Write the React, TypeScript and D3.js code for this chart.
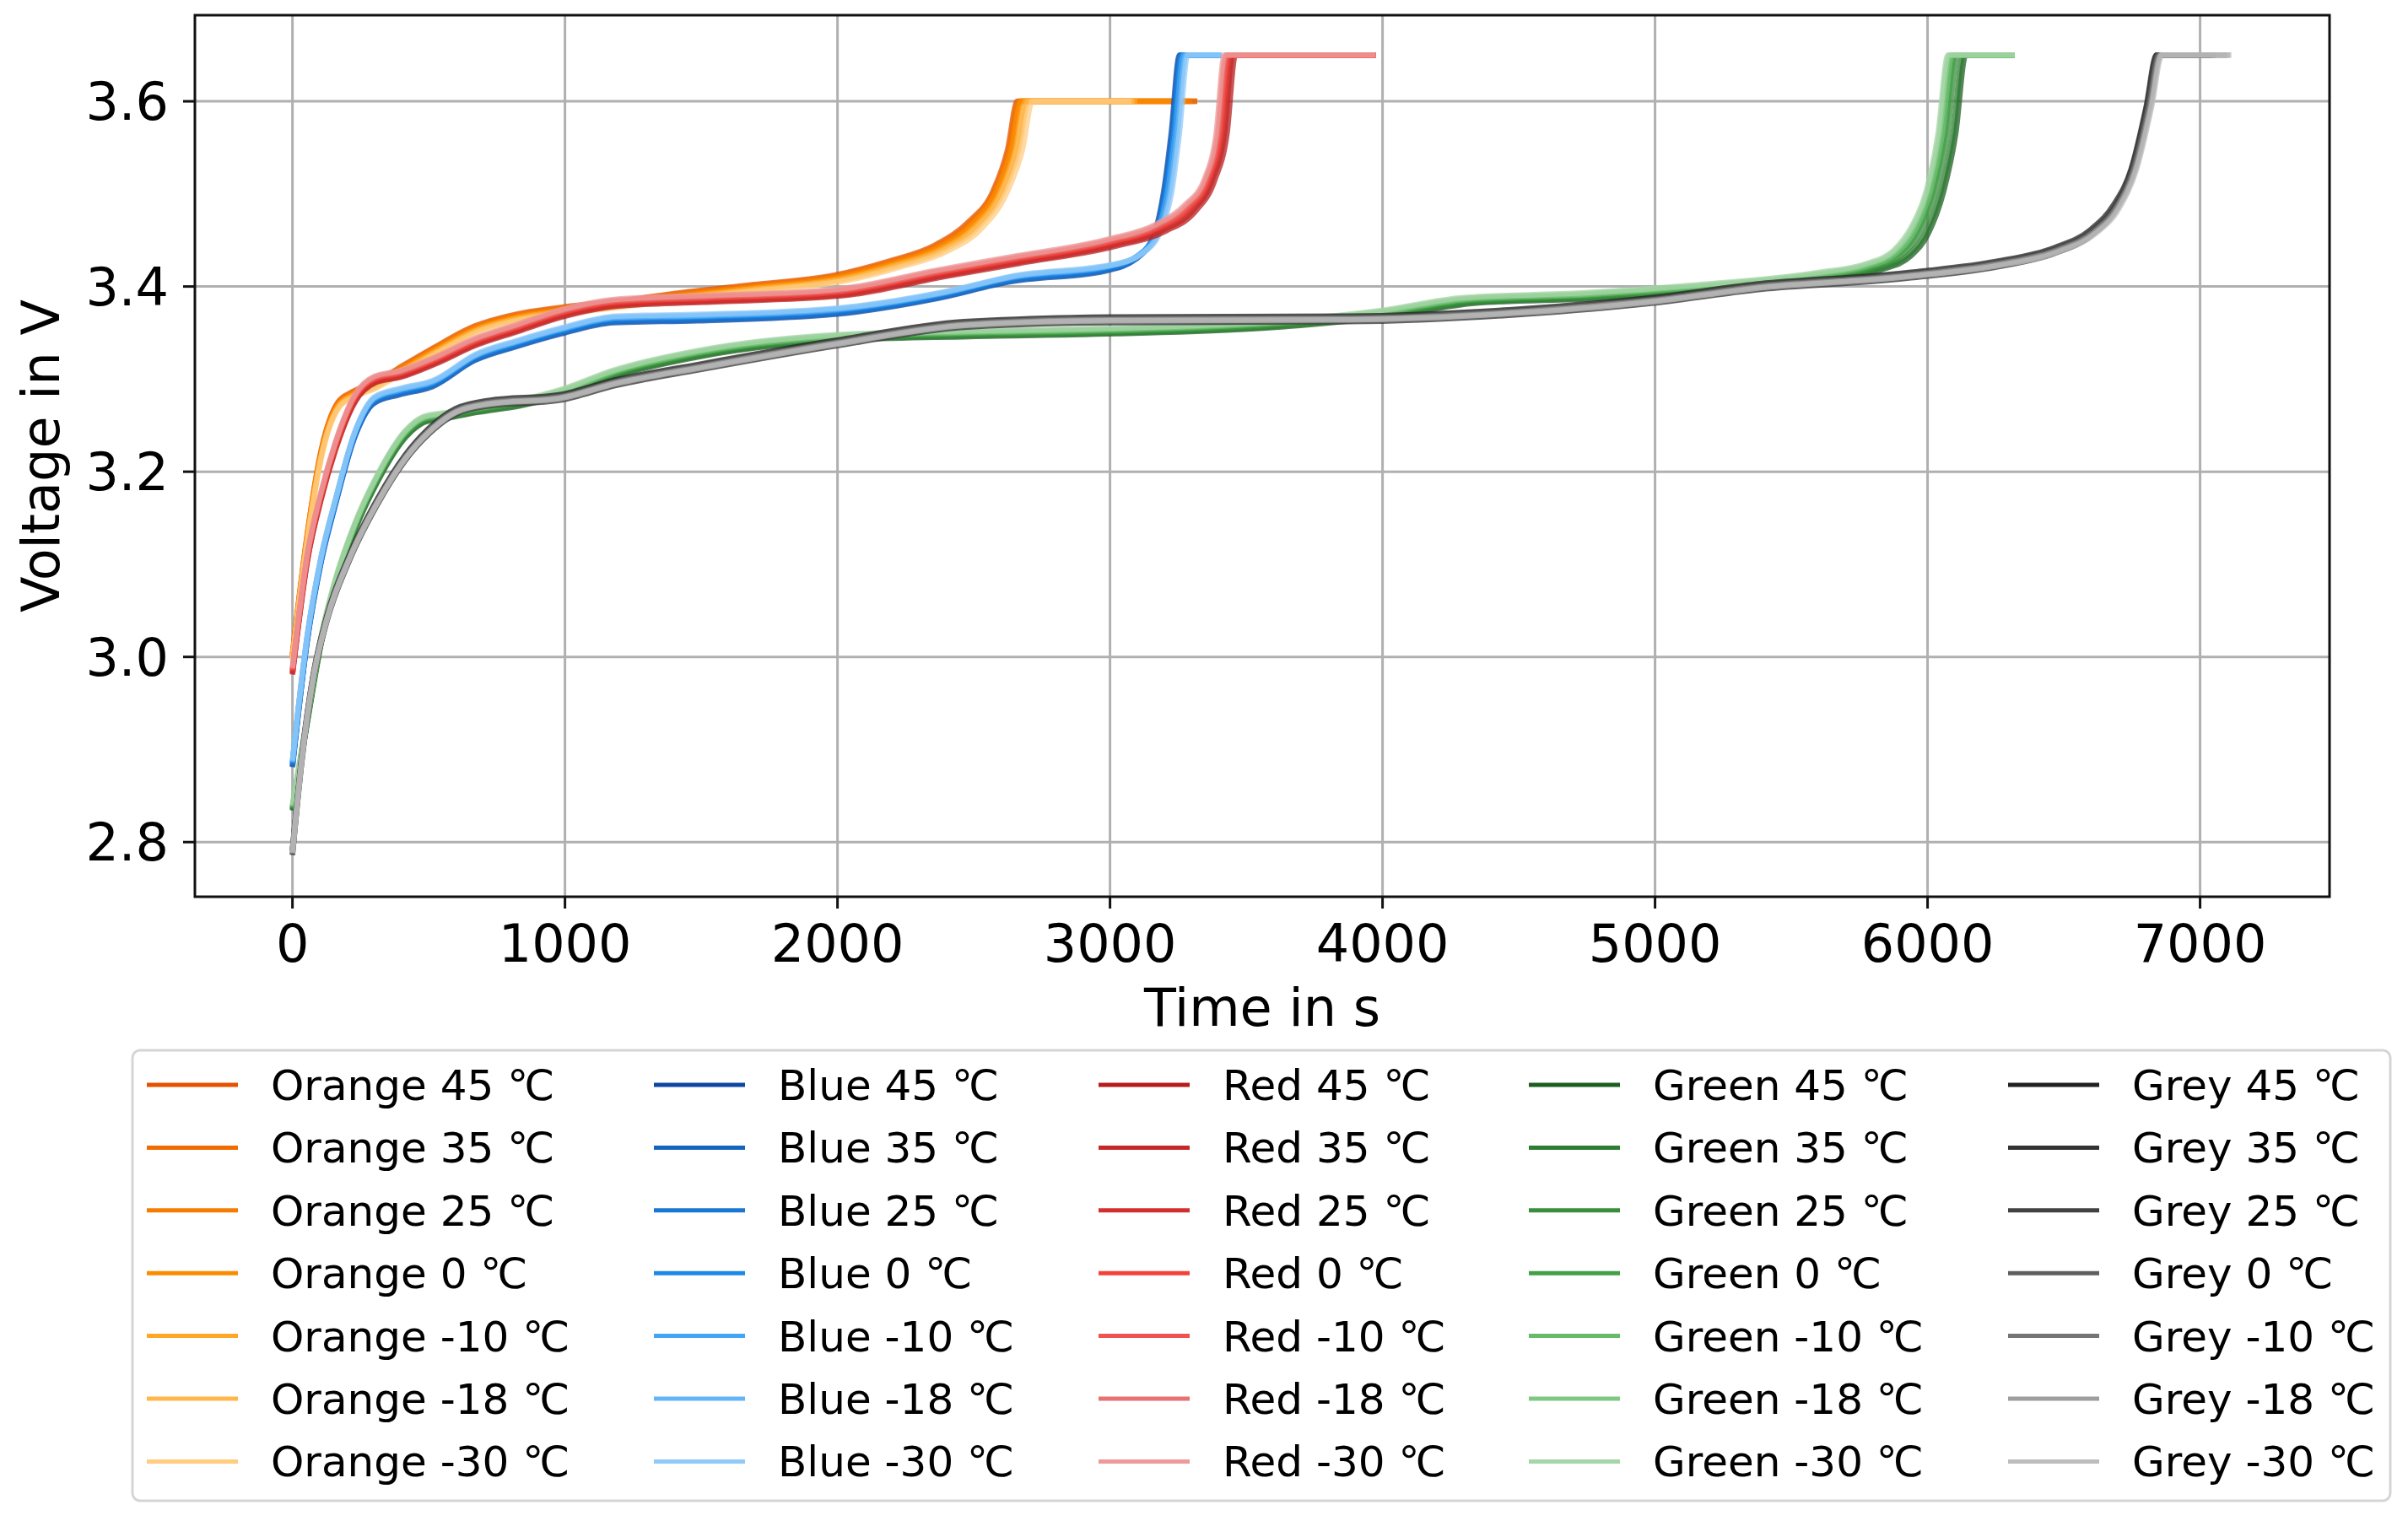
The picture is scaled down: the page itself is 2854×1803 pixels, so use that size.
import React, { useEffect, useRef } from 'react'
import * as d3 from 'd3'

// temperatures in legend order
const temps = ['45', '35', '25', '0', '-10', '-18', '-30']

// base curves (time in s, voltage in V), last point = CV knee
const orangeTime = [0, 54, 106, 168, 219, 301, 393, 517, 671, 825, 979, 1200, 1400, 1700, 2000, 2200, 2377, 2500, 2590, 2644, 2680]
const orangeVolt = [3.0, 3.128, 3.22, 3.272, 3.283, 3.293, 3.309, 3.33, 3.354, 3.367, 3.374, 3.381, 3.389, 3.399, 3.409, 3.424, 3.442, 3.467, 3.503, 3.548, 3.6]
const orangeKnee = [2660, 2665, 2670, 2675, 2690, 2700, 2715]
const orangeEnd = [3320, 3320, 3300, 3280, 3100, 3090, 3080]
const orangeSpread = [0.003, 0.002, 0.001, 0, -0.001, -0.002, -0.003]

const blueTime = [0, 54, 106, 157, 229, 301, 393, 517, 671, 825, 979, 1185, 1494, 2000, 2377, 2644, 3000, 3106, 3177, 3212, 3239, 3270]
const blueVolt = [2.885, 3.02, 3.107, 3.167, 3.241, 3.278, 3.287, 3.296, 3.324, 3.339, 3.352, 3.365, 3.367, 3.374, 3.391, 3.409, 3.421, 3.433, 3.461, 3.503, 3.564, 3.65]
const blueKnee = [3255, 3258, 3262, 3265, 3270, 3278, 3285]
const blueEnd = [3410, 3410, 3410, 3410, 3410, 3410, 3410]
const blueSpread = [-0.004, -0.003, -0.002, 0, 0.001, 0.002, 0.003]

const redTime = [0, 54, 106, 157, 229, 301, 393, 517, 671, 825, 979, 1185, 1494, 2000, 2377, 2644, 3000, 3177, 3284, 3355, 3399, 3430]
const redVolt = [2.985, 3.107, 3.176, 3.228, 3.28, 3.3, 3.306, 3.32, 3.341, 3.356, 3.371, 3.383, 3.387, 3.394, 3.415, 3.429, 3.448, 3.464, 3.485, 3.515, 3.564, 3.65]
const redKnee = [3460, 3450, 3440, 3435, 3430, 3425, 3420]
const redEnd = [3975, 3975, 3975, 3975, 3975, 3975, 3975]
const redSpread = [-0.004, -0.003, -0.002, 0, 0.001, 0.002, 0.003]

const greenTime = [0, 54, 106, 157, 229, 311, 414, 486, 568, 671, 825, 979, 1185, 1494, 2000, 2466, 3000, 3532, 4000, 4308, 4741, 5175, 5608, 5782, 5890, 5955, 6010, 6053, 6090]
const greenVolt = [2.837, 2.932, 3.02, 3.08, 3.141, 3.193, 3.241, 3.257, 3.261, 3.267, 3.274, 3.285, 3.307, 3.328, 3.345, 3.349, 3.352, 3.358, 3.371, 3.385, 3.39, 3.399, 3.412, 3.421, 3.436, 3.461, 3.503, 3.564, 3.65]
const greenKnee = [6140, 6130, 6110, 6100, 6090, 6080, 6075]
const greenEnd = [6320, 6320, 6320, 6320, 6320, 6320, 6320]
const greenSpread = [-0.003, -0.002, -0.001, 0, 0.001, 0.002, 0.003]

const greyTime = [0, 34, 75, 126, 209, 311, 414, 517, 599, 722, 979, 1185, 1494, 2000, 2466, 3000, 3874, 4525, 5000, 5394, 5825, 6000, 6259, 6476, 6606, 6692, 6757, 6812, 6850]
const greyVolt = [2.789, 2.889, 2.976, 3.041, 3.107, 3.167, 3.215, 3.248, 3.265, 3.274, 3.28, 3.296, 3.313, 3.339, 3.359, 3.364, 3.365, 3.373, 3.385, 3.4, 3.409, 3.414, 3.424, 3.439, 3.458, 3.485, 3.527, 3.594, 3.65]
const greyKnee = [6840, 6842, 6845, 6848, 6852, 6856, 6860]
const greyEnd = [7040, 7040, 7050, 7060, 7100, 7110, 7115]
const greySpread = [0.003, -0.003, 0.002, -0.002, 0.001, 0, -0.001]

const orangeColors = ['#e65100', '#ef6c00', '#f57c00', '#fb8c00', '#ffa726', '#ffb74d', '#ffcc80']
const blueColors = ['#0d47a1', '#1565c0', '#1976d2', '#1e88e5', '#42a5f5', '#64b5f6', '#90caf9']
const redColors = ['#b71c1c', '#c62828', '#d32f2f', '#f44336', '#ef5350', '#e57373', '#ef9a9a']
const greenColors = ['#1b5e20', '#2e7d32', '#388e3c', '#43a047', '#66bb6a', '#81c784', '#a5d6a7']
const greyColors = ['#212121', '#333333', '#424242', '#5f5f5f', '#757575', '#9e9e9e', '#bdbdbd']

const xTicks = [0, 1000, 2000, 3000, 4000, 5000, 6000, 7000]
const yTicks = [2.8, 3.0, 3.2, 3.4, 3.6]

const families = [
    { name: 'Orange', time: orangeTime, volt: orangeVolt, knee: orangeKnee, end: orangeEnd, spread: orangeSpread, colors: orangeColors },
    { name: 'Blue', time: blueTime, volt: blueVolt, knee: blueKnee, end: blueEnd, spread: blueSpread, colors: blueColors },
    { name: 'Red', time: redTime, volt: redVolt, knee: redKnee, end: redEnd, spread: redSpread, colors: redColors },
    { name: 'Green', time: greenTime, volt: greenVolt, knee: greenKnee, end: greenEnd, spread: greenSpread, colors: greenColors },
    { name: 'Grey', time: greyTime, volt: greyVolt, knee: greyKnee, end: greyEnd, spread: greySpread, colors: greyColors },
]

const W = 2854
const H = 1803
const margin = { top: 18, right: 93, bottom: 740, left: 231 }
const FONT = "'DejaVu Sans', Verdana, sans-serif"

const App = () => {
    const ref = useRef<SVGSVGElement>(null)

    useEffect(() => {
        const svg = d3.select(ref.current)
        svg.selectAll('*').remove()

        const x0 = margin.left, x1 = W - margin.right
        const y0 = margin.top, y1 = H - margin.bottom

        const x = d3.scaleLinear().domain([-358, 7475]).range([x0, x1])
        const y = d3.scaleLinear().domain([2.741, 3.693]).range([y1, y0])

        svg.append('rect').attr('width', W).attr('height', H).attr('fill', 'white')

        // grid
        const grid = svg.append('g').attr('stroke', '#b0b0b0').attr('stroke-width', 3)
        xTicks.forEach(t => grid.append('line').attr('x1', x(t)).attr('x2', x(t)).attr('y1', y0).attr('y2', y1))
        yTicks.forEach(t => grid.append('line').attr('x1', x0).attr('x2', x1).attr('y1', y(t)).attr('y2', y(t)))

        // curves
        svg.append('defs').append('clipPath').attr('id', 'plotclip')
            .append('rect').attr('x', x0).attr('y', y0).attr('width', x1 - x0).attr('height', y1 - y0)
        const line = d3.line<[number, number]>().x(d => x(d[0])).y(d => y(d[1])).curve(d3.curveMonotoneX)
        const curves = svg.append('g').attr('clip-path', 'url(#plotclip)')
        families.forEach(f => {
            const last = f.time.length - 1
            temps.forEach((_, i) => {
                const k = f.knee[i] / f.time[last]
                // the plateau spread fades out towards the CV limit
                const pts: [number, number][] = f.time.map((t, j) => [t * k, j >= last - 2 ? f.volt[j] : f.volt[j] + f.spread[i]])
                pts.push([f.end[i], f.volt[last]])
                curves.append('path').datum(pts).attr('d', line)
                    .attr('fill', 'none').attr('stroke', f.colors[i]).attr('stroke-width', 6.5)
                    .attr('stroke-opacity', 0.75).attr('stroke-linejoin', 'round')
            })
        })

        // spines
        svg.append('rect').attr('x', x0).attr('y', y0).attr('width', x1 - x0).attr('height', y1 - y0)
            .attr('fill', 'none').attr('stroke', '#111').attr('stroke-width', 3)

        // ticks
        const ax = svg.append('g').attr('font-family', FONT).attr('font-size', 62).attr('fill', '#000')
        xTicks.forEach(t => {
            ax.append('line').attr('x1', x(t)).attr('x2', x(t)).attr('y1', y1).attr('y2', y1 + 14).attr('stroke', '#111').attr('stroke-width', 3)
            ax.append('text').attr('x', x(t)).attr('y', 1140).attr('text-anchor', 'middle').text(t)
        })
        yTicks.forEach(t => {
            ax.append('line').attr('x1', x0 - 14).attr('x2', x0).attr('y1', y(t)).attr('y2', y(t)).attr('stroke', '#111').attr('stroke-width', 3)
            ax.append('text').attr('x', 200).attr('y', y(t) + 22).attr('text-anchor', 'end').text(d3.format('.1f')(t))
        })
        ax.append('text').attr('x', (x0 + x1) / 2).attr('y', 1216).attr('text-anchor', 'middle').text('Time in s')
        ax.append('text').attr('transform', `translate(70,${(y0 + y1) / 2}) rotate(-90)`).attr('text-anchor', 'middle').text('Voltage in V')

        // legend
        const lg = svg.append('g').attr('font-family', FONT).attr('font-size', 50)
        lg.append('rect').attr('x', 157).attr('y', 1245).attr('width', 2676).attr('height', 534).attr('rx', 9)
            .attr('fill', 'white').attr('stroke', '#d5d5d5').attr('stroke-width', 3)
        const colX = [174, 775, 1302, 1812, 2380]
        families.forEach((f, c) => {
            temps.forEach((tp, i) => {
                const cy = 1286 + i * 74.4
                lg.append('line').attr('x1', colX[c]).attr('x2', colX[c] + 108).attr('y1', cy).attr('y2', cy)
                    .attr('stroke', f.colors[i]).attr('stroke-width', 5)
                lg.append('text').attr('x', colX[c] + 147).attr('y', cy + 18).text(`${f.name} ${tp} ℃`)
            })
        })
    }, [])

    return (
        <svg ref={ref} width={W} height={H} style={{ position: 'absolute', left: 0, top: 0 }} />
    )
}

export default App
